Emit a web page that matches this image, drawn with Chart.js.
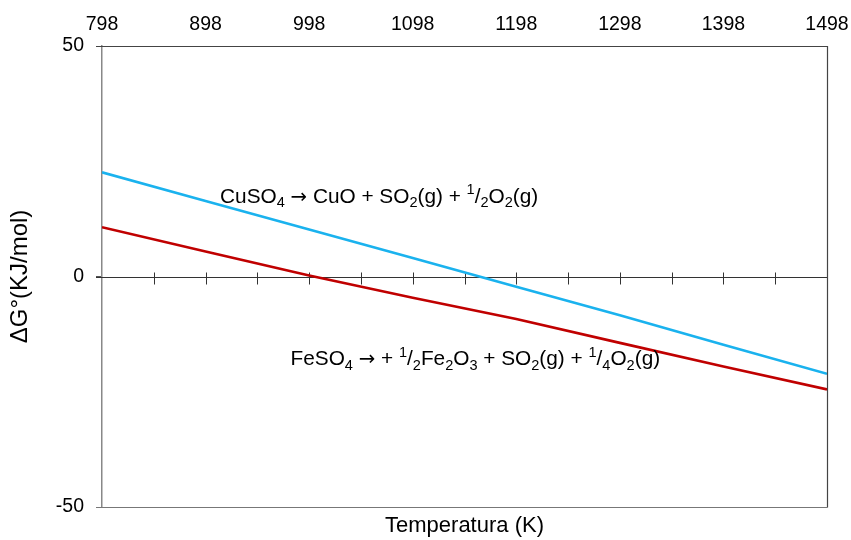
<!DOCTYPE html>
<html>
<head>
<meta charset="utf-8">
<script src="https://cdn.jsdelivr.net/npm/chart.js@4/dist/chart.umd.min.js"></script>
<style>
    html, body { margin: 0; padding: 0; background: #fff; }
    #box { width: 851px; height: 540px; }
</style>
</head>
<body>
<div id="box"><canvas id="grafico"></canvas></div>
<script>
"use strict";

// temperature (K) e deltaG (KJ/mol) delle due reazioni
const temperature=[798,898,998,1098,1198,1298,1398,1498];
const dgCuSO4=[22.6,16.4,10.2,4.0,-2.2,-8.4,-14.8,-21.1];
const dgFeSO4=[10.7,5.4,0.2,-4.6,-9.2,-14.4,-19.5,-24.5];

const tickTemperatura=[798,898,998,1098,1198,1298,1398,1498];
const tickDeltaG=[-50,0,50];
const tickMinori=[848,898,948,998,1048,1098,1148,1198,1248,1298,1348,1398,1448];

// formule scritte sul grafico: testo, [T, dG] del punto di partenza
const formulaCu=[
    {t:"CuSO"},{t:"4",s:"sub"},{t:" "},{t:"\u2192",s:"freccia"},{t:" CuO + SO"},{t:"2",s:"sub"},{t:"(g) + "},
    {t:"1",s:"sup"},{t:"/"},{t:"2",s:"sub"},{t:"O"},{t:"2",s:"sub"},{t:"(g)"}
];
const formulaFe=[
    {t:"FeSO"},{t:"4",s:"sub"},{t:" "},{t:"\u2192",s:"freccia"},{t:" + "},{t:"1",s:"sup"},{t:"/"},{t:"2",s:"sub"},
    {t:"Fe"},{t:"2",s:"sub"},{t:"O"},{t:"3",s:"sub"},{t:" + SO"},{t:"2",s:"sub"},{t:"(g) + "},
    {t:"1",s:"sup"},{t:"/"},{t:"4",s:"sub"},{t:"O"},{t:"2",s:"sub"},{t:"(g)"}
];
const posCu=[912,16.0];
const posFe=[980,-19.3];

const FONT='Arial, "Liberation Sans", sans-serif';

function toPunti(xs,ys) {
    let p=[];
    for (let i = 0; i < xs.length; i++)
        p.push({x:xs[i],y:ys[i]});
    return p;
}

function disegnaFormula(ctx,x,y,parti,size) {
    ctx.save();
    ctx.fillStyle="#000";
    ctx.textBaseline="alphabetic";
    ctx.textAlign="left";
    for (let p of parti) {
        let dy=0, sz=size, fam=FONT;
        if (p.s=="sub") { sz=size*0.7; dy=size*0.22; }
        if (p.s=="sup") { sz=size*0.7; dy=-size*0.4; }
        if (p.s=="freccia") { fam='"DejaVu Sans", sans-serif'; sz=size*0.95; }
        ctx.font=sz+"px "+fam;
        ctx.fillText(p.t,x,y+dy);
        x+=ctx.measureText(p.t).width;
    }
    ctx.restore();
}

//ASSE ORIZZONTALE A ZERO, CORNICE E FORMULE
const extra={
    id:"extra",
    beforeDatasetsDraw(chart) {
        let ctx=chart.ctx, a=chart.chartArea;
        let sx=chart.scales.x, sy=chart.scales.y;
        let y0=Math.round(sy.getPixelForValue(0))+0.5;
        ctx.save();
        ctx.strokeStyle="#333";
        ctx.lineWidth=1;
        ctx.beginPath();
        ctx.moveTo(a.left-6,y0);
        ctx.lineTo(a.right,y0);
        for (let t of tickMinori) {
            let x=Math.round(sx.getPixelForValue(t))+0.5;
            ctx.moveTo(x,y0-5);
            ctx.lineTo(x,y0+7);
        }
        ctx.stroke();
        ctx.restore();
    },
    afterDraw(chart) {
        let ctx=chart.ctx, a=chart.chartArea;
        let sx=chart.scales.x, sy=chart.scales.y;
        ctx.save();
        ctx.lineWidth=1.2;
        ctx.strokeStyle="#444";
        ctx.beginPath();
        ctx.moveTo(a.left-6,a.top+0.5);
        ctx.lineTo(a.right+0.5,a.top+0.5);
        ctx.lineTo(a.right+0.5,a.bottom+0.5);
        ctx.stroke();
        ctx.strokeStyle="#777";
        ctx.beginPath();
        ctx.moveTo(a.left-6,a.bottom+0.5);
        ctx.lineTo(a.right+0.5,a.bottom+0.5);
        ctx.stroke();
        ctx.restore();
        disegnaFormula(ctx,sx.getPixelForValue(posCu[0]),sy.getPixelForValue(posCu[1]),formulaCu,20.8);
        disegnaFormula(ctx,sx.getPixelForValue(posFe[0]),sy.getPixelForValue(posFe[1]),formulaFe,20.8);
    }
};

new Chart(document.getElementById("grafico"),{
    type:"line",
    data:{
        datasets:[
            {data:toPunti(temperature,dgCuSO4),borderColor:"#1ab2ee",borderWidth:2.6,pointRadius:0,tension:0},
            {data:toPunti(temperature,dgFeSO4),borderColor:"#c00000",borderWidth:2.6,pointRadius:0,tension:0}
        ]
    },
    options:{
        responsive:true,
        maintainAspectRatio:false,
        animation:false,
        layout:{padding:{top:0,right:24,bottom:0,left:0}},
        plugins:{legend:{display:false},tooltip:{enabled:false}},
        scales:{
            x:{
                type:"linear",
                position:"top",
                min:798,
                max:1498,
                afterBuildTicks(s){ s.ticks=tickTemperatura.map(v=>({value:v})); },
                afterFit(s){ s.height=46; s.paddingLeft=0; s.paddingRight=0; },
                grid:{display:false,drawTicks:false},
                border:{display:false},
                ticks:{color:"#000",font:{family:FONT,size:19.5},padding:10,maxRotation:0,
                    callback:(v)=>String(v)}
            },
            xTitolo:{
                type:"linear",
                position:"bottom",
                min:798,
                max:1498,
                afterFit(s){ s.height=33; s.paddingLeft=0; s.paddingRight=0; },
                grid:{display:false,drawTicks:false},
                border:{display:false},
                ticks:{display:false},
                title:{display:true,text:"Temperatura (K)",color:"#000",font:{family:FONT,size:22},padding:{top:0,bottom:1}}
            },
            y:{
                type:"linear",
                min:-50,
                max:50,
                afterBuildTicks(s){ s.ticks=tickDeltaG.map(v=>({value:v})); },
                afterFit(s){ s.width=102; s.paddingTop=0; s.paddingBottom=0; },
                grid:{drawOnChartArea:false,drawTicks:true,tickLength:6,color:"#555"},
                border:{color:"#888",width:1.5},
                ticks:{color:"#000",font:{family:FONT,size:19.5},padding:12},
                title:{display:true,text:"\u0394G\u00b0(KJ/mol)",color:"#000",font:{family:FONT,size:24},padding:{top:6,bottom:0}}
            }
        }
    },
    plugins:[extra]
});
</script>
</body>
</html>
